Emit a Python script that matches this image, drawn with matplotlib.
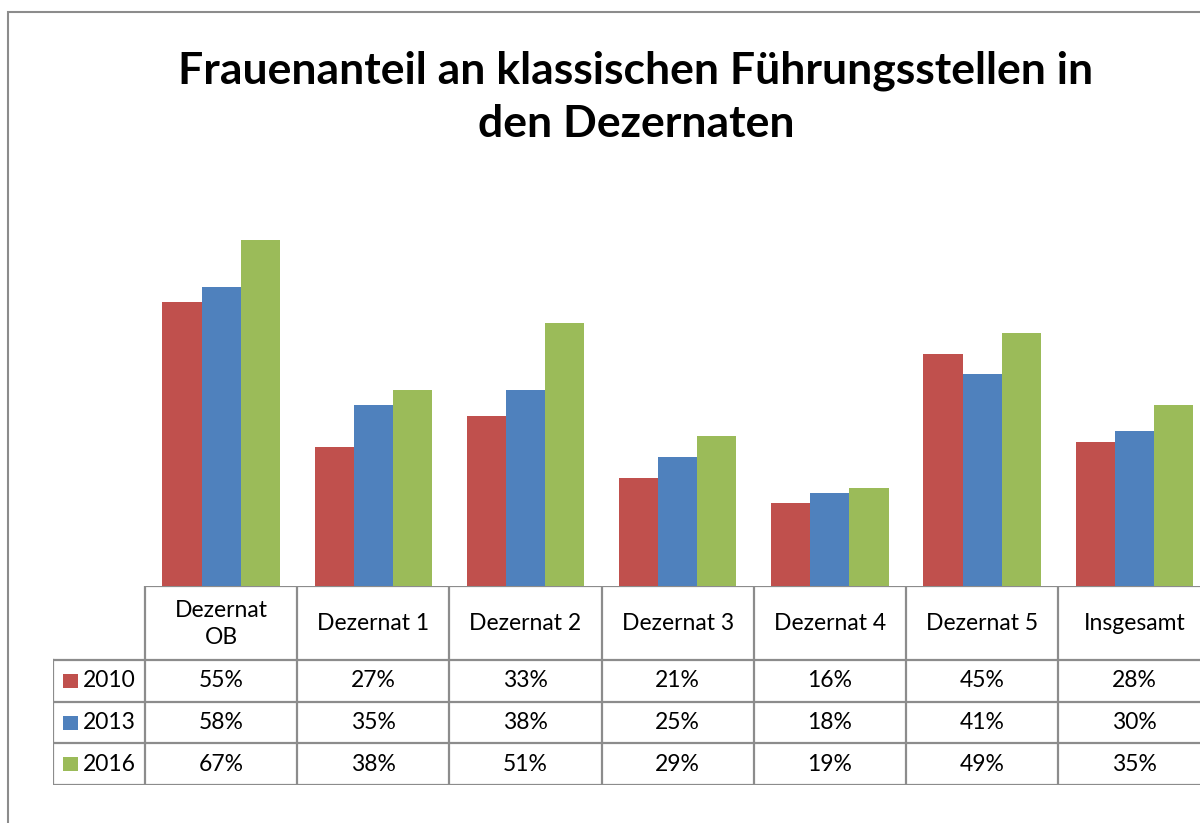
import matplotlib.pyplot as plt
from matplotlib.patches import Rectangle
import numpy as np

categories = ["Dezernat\nOB", "Dezernat 1", "Dezernat 2", "Dezernat 3",
              "Dezernat 4", "Dezernat 5", "Insgesamt"]
years = ["2010", "2013", "2016"]
v2010 = [55, 27, 33, 21, 16, 45, 28]
v2013 = [58, 35, 38, 25, 18, 41, 30]
v2016 = [67, 38, 51, 29, 19, 49, 35]
colors = ["#C0504D", "#4F81BD", "#9BBB59"]
title = "Frauenanteil an klassischen Führungsstellen in\nden Dezernaten"

plt.rcParams['font.family'] = ['Lato', 'DejaVu Sans']
W, H = 1200, 823
fig = plt.figure(figsize=(W / 100, H / 100), dpi=100)
grey = "#8c8c8c"

def fx(px):
    return px / W

def fy(py):
    return 1 - py / H

# chart frame (clipped at right and bottom like the original)
fig.patches.append(Rectangle((fx(8), fy(900)), fx(1400), fy(12) - fy(900),
                             transform=fig.transFigure, fill=False,
                             edgecolor=grey, lw=1.5))

fig.text(fx(636), fy(97), title, ha="center", va="center",
         fontsize=32, fontweight="bold", linespacing=1.4)

# bar area
x0, x1 = 145, 145 + 152.2 * 7
top, base = 173, 586
ax = fig.add_axes([fx(x0), fy(base), fx(x1 - x0), fy(top) - fy(base)])
series = [v2010, v2013, v2016]
n = len(categories)
x = np.arange(n)
bw = 0.257
for i, vals in enumerate(series):
    ax.bar(x + 0.5 + (i - 1) * bw, vals, width=bw, color=colors[i], linewidth=0)
ax.set_xlim(0, n)
ax.set_ylim(0, (base - top) / 5.16)
ax.axis("off")

# data table
tl = 53
tb = 785
hdr = 74
rh = (tb - base - hdr) / 3
cw = 152.2
tx = fig.add_axes([fx(tl), fy(tb), fx(x1 - tl), fy(base) - fy(tb)])
lc = (x0 - tl) / cw
tx.set_xlim(-lc, n)
tx.set_ylim(tb - base, 0)
tx.axis("off")
lw = 1.6
# horizontal lines
tx.plot([0, n], [0, 0], color=grey, lw=lw, solid_capstyle="butt")
for r in range(4):
    yy = hdr + r * rh
    tx.plot([-lc, n], [yy, yy], color=grey, lw=lw, solid_capstyle="butt")
# vertical lines
tx.plot([-lc, -lc], [hdr, hdr + 3 * rh], color=grey, lw=lw)
for c in range(n + 1):
    tx.plot([c, c], [0, hdr + 3 * rh], color=grey, lw=lw)

fs = 16.5
for c, cat in enumerate(categories):
    tx.text(c + 0.5, hdr / 2 + 1, cat, ha="center", va="center",
            fontsize=fs, linespacing=1.3)
for r, vals in enumerate(series):
    yc = hdr + (r + 0.5) * rh
    for c, v in enumerate(vals):
        tx.text(c + 0.5, yc, f"{v}%", ha="center", va="center", fontsize=fs)
    tx.add_patch(Rectangle((-lc + 10 / cw, yc - 7), 15 / cw, 14,
                           color=colors[r], lw=0))
    tx.text(-lc + 30 / cw, yc, years[r], ha="left", va="center", fontsize=fs)

fig.savefig("out.png", dpi=100)
